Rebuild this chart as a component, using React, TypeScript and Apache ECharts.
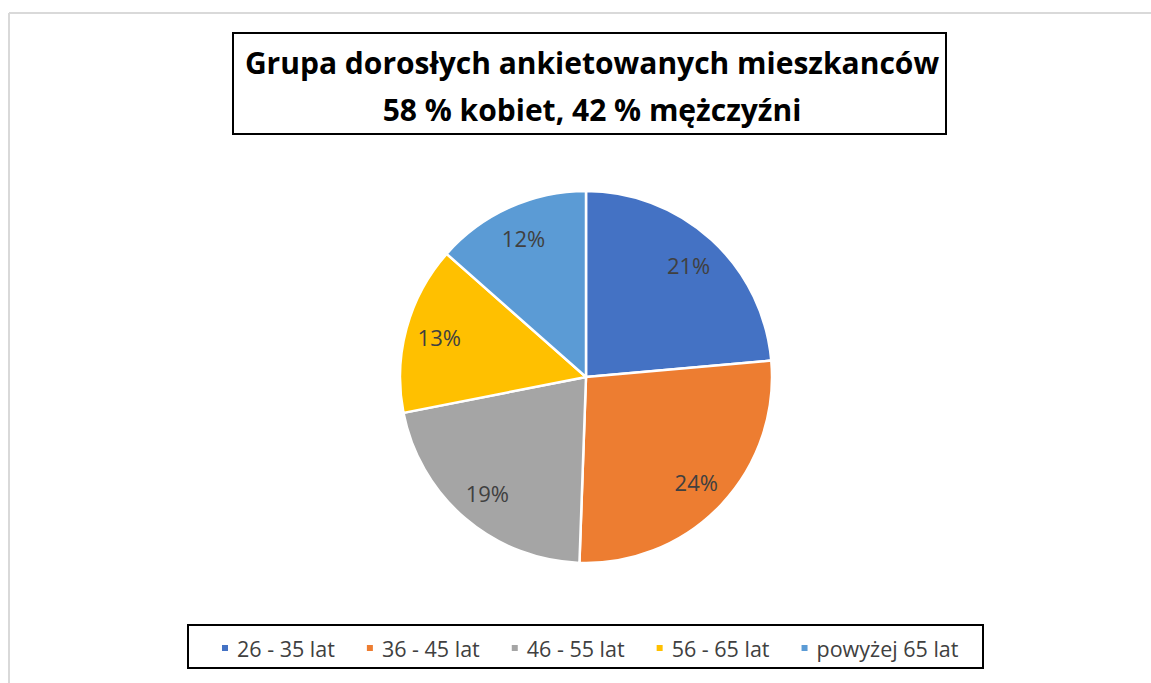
import React, { useEffect, useRef } from "react";
import * as echarts from "echarts";

const categories = ["26 - 35 lat", "36 - 45 lat", "46 - 55 lat", "56 - 65 lat", "powyżej 65 lat"];
const values = [21, 24, 19, 13, 12];
const colors = ["#4472C4", "#ED7D31", "#A5A5A5", "#FFC000", "#5B9BD5"];
const titleLines = ["Grupa dorosłych ankietowanych mieszkanców", "58 % kobiet, 42 % mężczyźni"];

export default function App() {
  const ref = useRef<HTMLDivElement>(null);
  useEffect(() => {
    if (!ref.current) return;
    const chart = echarts.init(ref.current, null, { renderer: "svg" });
    const data = categories.map((name, i) => ({ name, value: values[i], itemStyle: { color: colors[i] } }));
    chart.setOption({
      animation: false,
      backgroundColor: "#ffffff",
      title: {
        text: titleLines.join("\n"),
        left: 592,
        top: 39,
        textAlign: "center",
        padding: 0,
        textStyle: {
          fontFamily: "Open Sans",
          fontWeight: "bold",
          fontSize: 30,
          lineHeight: 47,
          color: "#000000",
        },
      },
      legend: {
        data: categories,
        left: 220,
        top: 637,
        padding: 0,
        icon: "rect",
        itemWidth: 8,
        itemHeight: 8,
        itemGap: 30,
        textStyle: {
          fontFamily: "Open Sans",
          fontSize: 21.5,
          lineHeight: 22,
          color: "#404040",
          padding: [0, 0, 0, 3],
        },
        selectedMode: false,
      },
      graphic: [
        { type: "line", shape: { x1: 9, y1: 13, x2: 1151, y2: 13 }, style: { stroke: "#d9d9d9", lineWidth: 2 }, silent: true },
        { type: "line", shape: { x1: 9, y1: 13, x2: 9, y2: 683 }, style: { stroke: "#d9d9d9", lineWidth: 2 }, silent: true },
        { type: "rect", shape: { x: 233, y: 33, width: 713, height: 101 }, style: { fill: "none", stroke: "#000000", lineWidth: 2 }, silent: true },
        { type: "rect", shape: { x: 188, y: 625, width: 795, height: 43 }, style: { fill: "none", stroke: "#000000", lineWidth: 2 }, silent: true },
      ],
      series: [
        {
          type: "pie",
          center: [586, 377],
          radius: [0, 186],
          startAngle: 90,
          clockwise: true,
          data,
          label: { show: false },
          labelLine: { show: false },
          itemStyle: { borderColor: "#ffffff", borderWidth: 2.5 },
          emphasis: { disabled: true },
          silent: true,
        },
        {
          type: "pie",
          center: [586, 377],
          radius: [112, 186],
          startAngle: 90,
          clockwise: true,
          data: categories.map((name, i) => ({ name, value: values[i] })),
          itemStyle: { color: "rgba(0,0,0,0)", borderWidth: 0 },
          label: {
            show: true,
            position: "inside",
            formatter: "{c}%",
            fontFamily: "Open Sans",
            fontSize: 22,
            color: "#404040",
          },
          labelLine: { show: false },
          emphasis: { disabled: true },
          silent: true,
        },
      ],
    });
    return () => chart.dispose();
  }, []);
  return <div ref={ref} style={{ position: "absolute", left: 0, top: 0, width: 1151, height: 683 }} />;
}
